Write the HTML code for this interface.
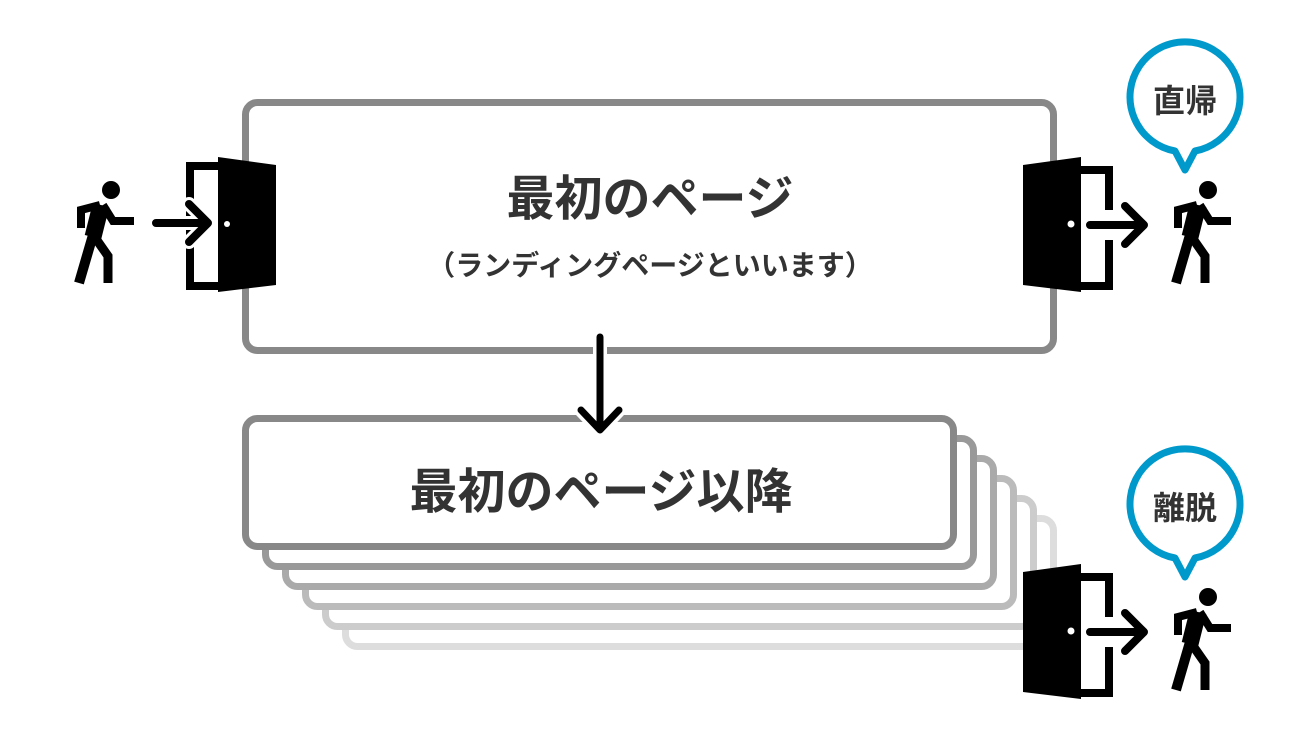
<!DOCTYPE html>
<html><head><meta charset="utf-8"><style>
html,body{margin:0;padding:0;background:#fff;width:1300px;height:750px;overflow:hidden}
text{font-family:"Liberation Sans","Noto Sans CJK JP",sans-serif;font-weight:bold;fill:#333}
</style></head><body>
<svg width="1300" height="750" viewBox="0 0 1300 750" xmlns="http://www.w3.org/2000/svg">
<defs>
<g id="person">
  <circle cx="111" cy="190" r="9" fill="#000"/>
  <path d="M101 205 L93 237" stroke="#000" stroke-width="17" stroke-linecap="butt" fill="none"/>
  <path d="M100 205 L81 210 L81 228" stroke="#000" stroke-width="8" fill="none"/>
  <path d="M103 205 L113 221 L134 221" stroke="#000" stroke-width="8" fill="none"/>
  <path d="M93 235 L79 283" stroke="#000" stroke-width="10" fill="none"/>
  <path d="M94 236 L108 256 L108 283" stroke="#000" stroke-width="9" fill="none"/>
</g>
</defs>

<rect x="245.5" y="102.5" width="808" height="248" rx="12" fill="#fff" stroke="#888" stroke-width="7"/>
<text x="650" y="215" font-size="48" text-anchor="middle">最初のページ</text>
<text x="650" y="275" font-size="28" text-anchor="middle">（ランディングページといいます）</text>

<rect x="345.5" y="518.5" width="708" height="128" rx="12" fill="#fff" stroke="#ddd" stroke-width="7"/>
<rect x="325.5" y="498.5" width="708" height="128" rx="12" fill="#fff" stroke="#ccc" stroke-width="7"/>
<rect x="305.5" y="478.5" width="708" height="128" rx="12" fill="#fff" stroke="#bbb" stroke-width="7"/>
<rect x="285.5" y="458.5" width="708" height="128" rx="12" fill="#fff" stroke="#aaa" stroke-width="7"/>
<rect x="265.5" y="438.5" width="708" height="128" rx="12" fill="#fff" stroke="#999" stroke-width="7"/>
<rect x="245.5" y="418.5" width="708" height="128" rx="12" fill="#fff" stroke="#888" stroke-width="7"/>
<text x="601" y="508" font-size="48" text-anchor="middle">最初のページ以降</text>

<path d="M600 337 L600 428 M581 410 L600 430 L619 410" stroke="#fff" stroke-width="14" fill="none" stroke-linecap="round" stroke-linejoin="round"/>
<path d="M600 337 L600 428 M581 410 L600 430 L619 410" stroke="#000" stroke-width="7" fill="none" stroke-linecap="round" stroke-linejoin="round"/>

<use href="#person"/>
<path d="M218 166 L190 166 L190 286 L218 286" stroke="#000" stroke-width="8" fill="none"/>
<path d="M156 223 L207 223 M189 204 L208 223 L189 242" stroke="#fff" stroke-width="14" fill="none" stroke-linecap="round" stroke-linejoin="round"/>
<path d="M156 223 L207 223 M189 204 L208 223 L189 242" stroke="#000" stroke-width="8" fill="none" stroke-linecap="round" stroke-linejoin="round"/>
<polygon points="218,157 276,165 276,285 218,292" fill="#000"/>
<circle cx="227" cy="224" r="3" fill="#fff"/>

<g id="exitset">
<polygon points="1023,165 1081,157 1081,292 1023,285" fill="#000"/>
<circle cx="1071" cy="224" r="3.5" fill="#fff"/>
<path d="M1081 170 L1109 170 L1109 210 M1109 240 L1109 286 L1081 286" stroke="#000" stroke-width="8" fill="none"/>
<path d="M1090 225 L1143 225 M1125 206 L1144 225 L1125 244" stroke="#000" stroke-width="8" fill="none" stroke-linecap="round" stroke-linejoin="round"/>
<use href="#person" transform="translate(1097,0)"/>
<path d="M1175 151 A55 55 0 1 1 1195 151 L1185 170 Z" fill="#fff" stroke="#0099cc" stroke-width="7" stroke-linejoin="round"/>
</g>
<text x="1185" y="112" font-size="32" text-anchor="middle">直帰</text>

<use href="#exitset" transform="translate(0,407)"/>
<text x="1185" y="519" font-size="32" text-anchor="middle">離脱</text>
</svg>
</body></html>
